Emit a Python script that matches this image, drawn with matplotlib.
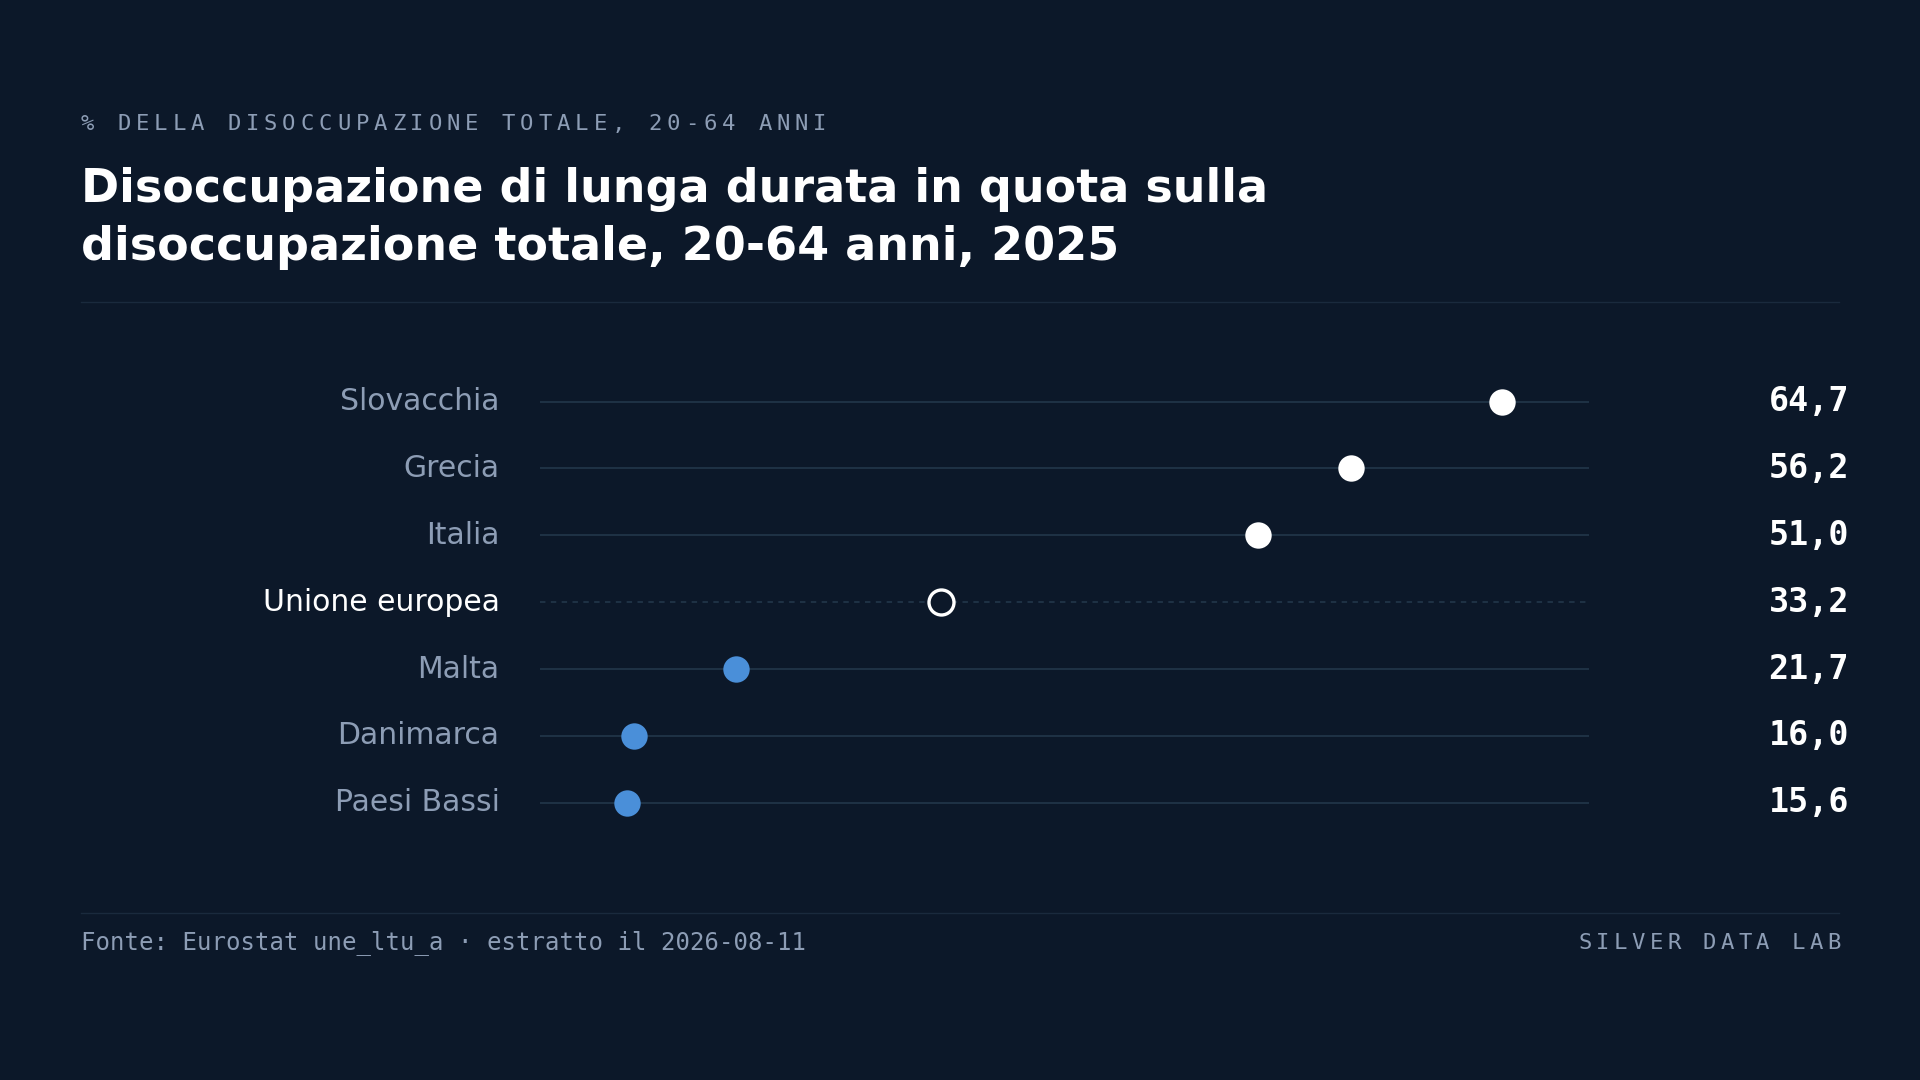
import matplotlib
matplotlib.use("Agg")
import matplotlib.pyplot as plt

countries = ["Slovacchia", "Grecia", "Italia", "Unione europea", "Malta", "Danimarca", "Paesi Bassi"]
values = [64.7, 56.2, 51.0, 33.2, 21.7, 16.0, 15.6]
eu_name = "Unione europea"
threshold = 40  # above: white dots, below: blue dots

BG = "#0c1829"
GRID = "#213448"
MUTED = "#8d9db5"
BLUE = "#4a8fd9"
W, H = 1568, 882  # layout in reference pixels


def fx(x):
    return x / W


def fy(y):
    return 1 - y / H


def spaced(fig, text, x, y, pitch, **kw):
    # monospace text with extra letter spacing, placed char by char
    for i, ch in enumerate(text):
        fig.text(fx(x + i * pitch), fy(y), ch, va="center", ha="left",
                 family="DejaVu Sans Mono", **kw)


fig = plt.figure(figsize=(19.2, 10.8), dpi=100, facecolor=BG)

spaced(fig, "% DELLA DISOCCUPAZIONE TOTALE, 20-64 ANNI", 66, 101, 14.95, color=MUTED, fontsize=16)
fig.text(fx(66), fy(155), "Disoccupazione di lunga durata in quota sulla",
         color="white", fontsize=33.1, fontweight="bold", va="center", ha="left")
fig.text(fx(66), fy(202), "disoccupazione totale, 20-64 anni, 2025",
         color="white", fontsize=33.1, fontweight="bold", va="center", ha="left")
fig.add_artist(plt.Line2D([fx(66), fx(1502)], [fy(247), fy(247)], color="#1a2a3d", lw=1))

row_y0, row_dy = 328, 54.6
ax = fig.add_axes([fx(441), fy(row_y0 + row_dy * 6.5), fx(1298 - 441), row_dy * 7 / H])
ax.set_facecolor("none")
ax.set_xlim(10.7, 69.6)
ax.set_ylim(6.5, -0.5)
ax.axis("off")

for i, (c, v) in enumerate(zip(countries, values)):
    is_eu = c == eu_name
    ax.axhline(i, color=GRID, lw=1.3, ls=(0, (3, 3)) if is_eu else "-", zorder=1)
    if is_eu:
        ax.plot(v, i, "o", ms=18, mfc=BG, mec="white", mew=2.4, zorder=3)
    else:
        ax.plot(v, i, "o", ms=19, mfc="white" if v > threshold else BLUE, mec="none", zorder=3)
    y = row_y0 + i * row_dy
    fig.text(fx(408), fy(y), c, ha="right", va="center", fontsize=21.5,
             color="white" if is_eu else MUTED)
    fig.text(fx(1510), fy(y), f"{v:.1f}".replace(".", ","), ha="right", va="center",
             fontsize=24, fontweight="bold", family="DejaVu Sans Mono", color="white")

fig.add_artist(plt.Line2D([fx(66), fx(1502)], [fy(746), fy(746)], color="#1a2a3d", lw=1))
fig.text(fx(66), fy(770), "Fonte: Eurostat une_ltu_a · estratto il 2026-08-11", ha="left", va="center",
         family="DejaVu Sans Mono", fontsize=17.3, color=MUTED)
brand = "SILVER DATA LAB"
spaced(fig, brand, 1289, 770, 14.5, color=MUTED, fontsize=16)

fig.savefig("out.png", dpi=100, facecolor=BG)
